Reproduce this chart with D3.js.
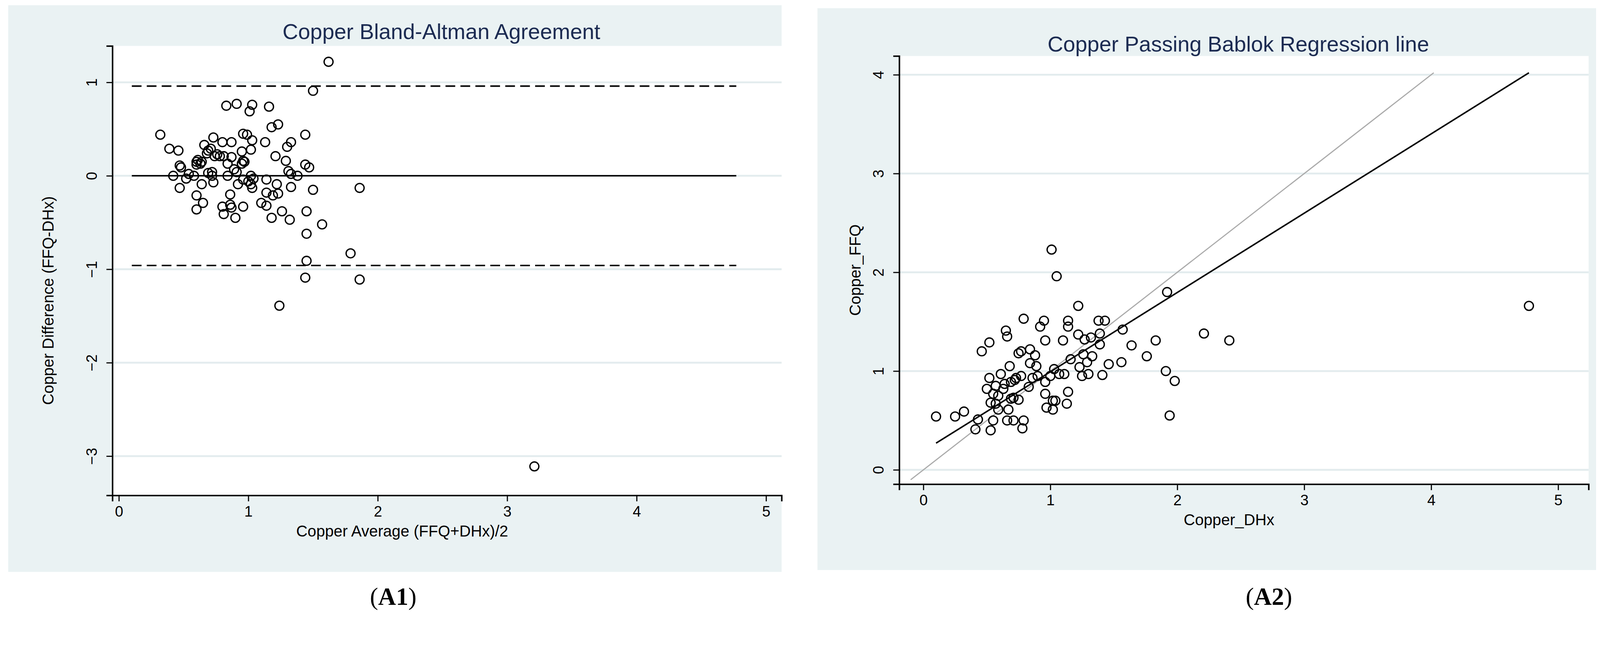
<!DOCTYPE html>
<html><head><meta charset="utf-8">
<script src="https://cdn.jsdelivr.net/npm/d3@7"></script>
<style>html,body{margin:0;background:#fff;overflow:hidden}svg{display:block}</style>
</head><body>
<svg id="chart" width="4290" height="1680"></svg>
<script>
// Bland-Altman: average, difference
const baAvg = [0.32,0.39,0.46,0.42,0.48,0.47,0.47,0.52,0.54,0.58,0.60,0.60,0.61,0.63,0.64,0.60,0.60,0.64,0.65,0.66,0.68,0.69,0.69,0.71,0.72,0.72,0.73,0.73,0.74,0.76,0.78,0.80,0.81,0.80,0.81,0.83,0.84,0.84,0.86,0.86,0.87,0.87,0.87,0.89,0.90,0.91,0.91,0.92,0.95,0.95,0.96,0.96,0.96,0.97,0.96,0.99,1.00,1.01,1.02,1.02,1.03,1.02,1.03,1.03,1.04,1.10,1.13,1.14,1.14,1.14,1.16,1.18,1.18,1.19,1.21,1.22,1.23,1.23,1.26,1.29,1.30,1.31,1.32,1.33,1.33,1.33,1.38,1.44,1.44,1.45,1.45,1.47,1.50,1.50,1.45,1.44,1.57,1.62,1.24,1.79,1.86,1.86,3.21];
const baDiff = [0.44,0.29,0.27,0.00,0.09,0.11,-0.13,-0.03,0.02,0.00,0.15,0.12,0.17,0.13,0.15,-0.21,-0.36,-0.09,-0.29,0.33,0.24,0.27,0.03,0.29,0.00,0.04,0.41,-0.07,0.21,0.23,0.21,0.36,0.21,-0.33,-0.41,0.75,0.00,0.13,-0.31,-0.20,0.36,-0.34,0.20,0.07,-0.45,0.77,0.04,-0.09,0.13,0.26,0.45,-0.33,0.16,0.15,-0.04,0.44,-0.06,0.69,-0.09,0.00,0.76,0.28,0.38,-0.13,-0.03,-0.29,0.36,-0.18,-0.32,-0.04,0.74,0.52,-0.45,-0.21,0.21,-0.09,0.55,-0.19,-0.38,0.16,0.31,0.05,-0.47,0.02,0.36,-0.12,0.00,0.44,0.12,-0.38,-0.62,0.09,-0.15,0.91,-0.91,-1.09,-0.52,1.22,-1.39,-0.83,-0.13,-1.11,-3.11];
const baMean = 0, baLimit = 0.96, baLineX = [0.1, 4.77];
const baTicksX = [0,1,2,3,4,5], baTicksY = [1,0,-1,-2,-3];

// Passing-Bablok: DHx, FFQ
const pbDHx = [0.10,0.25,0.32,0.43,0.41,0.46,0.50,0.52,0.52,0.53,0.53,0.55,0.55,0.57,0.57,0.59,0.59,0.61,0.63,0.64,0.65,0.66,0.66,0.67,0.68,0.69,0.69,0.71,0.71,0.72,0.73,0.75,0.75,0.77,0.77,0.78,0.79,0.79,0.83,0.84,0.84,0.86,0.88,0.89,0.90,0.92,0.95,0.96,0.96,0.96,0.97,1.00,1.01,1.02,1.02,1.03,1.04,1.05,1.07,1.10,1.11,1.13,1.14,1.14,1.14,1.16,1.22,1.22,1.23,1.25,1.26,1.27,1.29,1.30,1.32,1.33,1.38,1.39,1.39,1.41,1.43,1.46,1.56,1.57,1.64,1.76,1.83,1.91,1.92,1.94,1.98,2.21,2.41,4.77];
const pbFFQ = [0.54,0.54,0.59,0.51,0.41,1.20,0.82,0.93,1.29,0.68,0.40,0.50,0.77,0.85,0.67,0.75,0.61,0.97,0.82,0.87,1.41,1.35,0.50,0.61,1.05,0.72,0.89,0.50,0.73,0.91,0.93,1.18,0.71,0.95,1.20,0.42,0.50,1.53,0.84,1.22,1.08,0.93,1.16,1.05,0.95,1.45,1.51,0.89,1.31,0.77,0.63,0.95,2.23,0.61,0.70,1.02,0.70,1.96,0.97,1.31,0.97,0.67,0.79,1.45,1.51,1.12,1.37,1.66,1.04,0.95,1.17,1.32,1.09,0.97,1.34,1.15,1.51,1.38,1.27,0.96,1.51,1.07,1.09,1.42,1.26,1.15,1.31,1.00,1.80,0.55,0.90,1.38,1.31,1.66];
const pbFitX = [0.10, 4.77], pbFitY = [0.27, 4.02];
const pbIdent = [-0.1, 4.02];
const pbTicksX = [0,1,2,3,4,5], pbTicksY = [0,1,2,3,4];

// layout was measured at a slightly larger scale; shrink everything to fit
const root = d3.select("#chart").append("g").attr("transform", "scale(0.956)");
const titleColor = "#1c2b52", bg = "#eaf2f3", grid = "#e3ecee";
const font = "'Liberation Sans', Arial, sans-serif";

function panel(o) {
  root.append("rect").attr("x", o.bx).attr("y", o.by).attr("width", o.bw).attr("height", o.bh).attr("fill", bg);
  root.append("rect").attr("x", o.x0).attr("y", o.y0).attr("width", o.x1 - o.x0).attr("height", o.y1 - o.y0).attr("fill", "#fff");
  const x = d3.scaleLinear().domain(o.xd).range([o.x0, o.x1]);
  const y = d3.scaleLinear().domain(o.yd).range([o.y1, o.y0]);
  const g = root.append("g");
  o.ty.forEach(t => g.append("line").attr("x1", o.x0).attr("x2", o.x1).attr("y1", y(t)).attr("y2", y(t))
    .attr("stroke", grid).attr("stroke-width", 5));
  const ax = g.append("g").attr("transform", `translate(0,${o.y1})`)
    .call(d3.axisBottom(x).tickValues(o.tx).tickSize(16).tickPadding(12).tickFormat(d3.format("d")));
  const ay = g.append("g").attr("transform", `translate(${o.x0},0)`)
    .call(d3.axisLeft(y).tickValues(o.ty).tickSize(16).tickPadding(12).tickFormat(d3.format("d")));
  [ax, ay].forEach(a => {
    a.select(".domain").attr("stroke", "#000").attr("stroke-width", 4);
    a.selectAll(".tick line").attr("stroke", "#000").attr("stroke-width", 3);
    a.selectAll("text").attr("font-family", font).attr("font-size", 40).attr("fill", "#000");
  });
  ay.selectAll(".tick text").attr("text-anchor", "middle").attr("x", 0).attr("y", 0).attr("dy", 0)
    .attr("transform", "translate(-42,0) rotate(-90)");
  root.append("text").attr("x", o.tcx).attr("y", o.tcy).attr("text-anchor", "middle")
    .attr("font-family", font).attr("font-size", 58).attr("fill", titleColor).text(o.title);
  root.append("text").attr("x", (o.x0 + o.x1) / 2 + o.xlOff).attr("y", o.y1 + 110).attr("text-anchor", "middle")
    .attr("font-family", font).attr("font-size", 42).text(o.xl);
  root.append("text").attr("transform", `translate(${o.ylx},${(o.y0 + o.y1) / 2 + o.ylOff}) rotate(-90)`).attr("text-anchor", "middle")
    .attr("font-family", font).attr("font-size", 42).text(o.yl);
  root.append("text").attr("x", o.capx).attr("y", 1620).attr("text-anchor", "middle")
    .attr("font-family", "'Liberation Serif', serif").attr("font-size", 66)
    .html(`(<tspan font-weight="bold">${o.cap}</tspan>)`);
  return {x, y, g};
}

// Left panel
const L = panel({bx: 22, by: 14, bw: 2071, bh: 1518, x0: 301, x1: 2093, y0: 123, y1: 1327,
  xd: [-0.05, 5.12], yd: [-3.42, 1.39], tx: baTicksX, ty: baTicksY,
  title: "Copper Bland-Altman Agreement", tcx: 1182, tcy: 105,
  xl: "Copper Average (FFQ+DHx)/2", xlOff: -120, yl: "Copper Difference (FFQ-DHx)", ylx: 143, ylOff: 80,
  capx: 1053, cap: "A1"});
[baLimit, -baLimit].forEach(v => L.g.append("line").attr("x1", L.x(baLineX[0])).attr("x2", L.x(baLineX[1]))
  .attr("y1", L.y(v)).attr("y2", L.y(v)).attr("stroke", "#000").attr("stroke-width", 4).attr("stroke-dasharray", "26,14"));
L.g.append("line").attr("x1", L.x(baLineX[0])).attr("x2", L.x(baLineX[1]))
  .attr("y1", L.y(baMean)).attr("y2", L.y(baMean)).attr("stroke", "#000").attr("stroke-width", 4);
L.g.selectAll("circle.p").data(baAvg).join("circle").attr("class", "p")
  .attr("cx", d => L.x(d)).attr("cy", (d, i) => L.y(baDiff[i])).attr("r", 12)
  .attr("fill", "none").attr("stroke", "#000").attr("stroke-width", 3.5);

// Right panel
const R = panel({bx: 2189, by: 22, bw: 2085, bh: 1505, x0: 2408, x1: 4254, y0: 150, y1: 1297,
  xd: [-0.19, 5.24], yd: [-0.145, 4.19], tx: pbTicksX, ty: pbTicksY,
  title: "Copper Passing Bablok Regression line", tcx: 3316, tcy: 138,
  xl: "Copper_DHx", xlOff: -40, yl: "Copper_FFQ", ylx: 2304, ylOff: 0,
  capx: 3398, cap: "A2"});
R.g.append("line").attr("x1", R.x(pbIdent[0])).attr("y1", R.y(pbIdent[0]))
  .attr("x2", R.x(pbIdent[1])).attr("y2", R.y(pbIdent[1])).attr("stroke", "#aaa").attr("stroke-width", 3);
R.g.append("line").attr("x1", R.x(pbFitX[0])).attr("y1", R.y(pbFitY[0]))
  .attr("x2", R.x(pbFitX[1])).attr("y2", R.y(pbFitY[1])).attr("stroke", "#000").attr("stroke-width", 4);
R.g.selectAll("circle.p").data(pbDHx).join("circle").attr("class", "p")
  .attr("cx", d => R.x(d)).attr("cy", (d, i) => R.y(pbFFQ[i])).attr("r", 12)
  .attr("fill", "none").attr("stroke", "#000").attr("stroke-width", 3.5);
</script>
</body></html>
